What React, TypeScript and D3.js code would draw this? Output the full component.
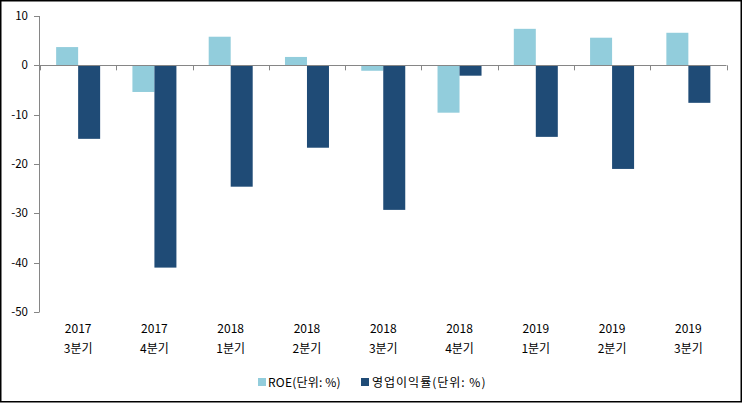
import React from 'react';
import * as d3 from 'd3';

const years = ['2017', '2017', '2018', '2018', '2018', '2018', '2019', '2019', '2019'];
const quarters = ['3분기', '4분기', '1분기', '2분기', '3분기', '4분기', '1분기', '2분기', '3분기'];
const roe = [3.7, -5.4, 5.8, 1.7, -1.1, -9.6, 7.4, 5.6, 6.6];
const opMargin = [-14.9, -41, -24.6, -16.7, -29.3, -2.1, -14.5, -21, -7.6];
const yTicks = [10, 0, -10, -20, -30, -40, -50];
const seriesNames = ['ROE(단위: %)', '영업이익률(단위: %)'];
const colors = ['#92cddc', '#1f4b76'];

const W = 743;
const H = 403;
const font = '"Noto Sans CJK KR", "Open Sans", sans-serif';

const App: React.FC = () => {
  const idx = years.map((_, i) => i);
  const x = d3.scaleBand<number>().domain(idx).range([40, 726.5]);
  const y = d3.scaleLinear().domain([-50, 10]).range([312, 16]);
  const barW = 22;
  const zero = y(0);
  const bw = x.bandwidth();

  return (
    <>
      <style>{'body{margin:0}'}</style>
      <svg width={W} height={H} style={{display: 'block', fontFamily: font}}>
        <rect x={0} y={0} width={W} height={H} fill="#fff"/>
        <rect x={0.75} y={0.75} width={740.5} height={401} fill="none" stroke="#000" strokeWidth={1.5}/>

        {/* bars */}
        {[roe, opMargin].map((vals, s) => vals.map((v, i) => {
          const cx = x(i)! + bw / 2;
          const bx = s === 0 ? cx - barW : cx;
          return <rect key={`${s}-${i}`} x={bx} width={barW}
                       y={Math.min(y(v), zero)} height={Math.abs(y(v) - zero)}
                       fill={colors[s]}/>;
        }))}

        {/* y axis */}
        <line x1={39.5} x2={39.5} y1={y(10)} y2={y(-50)} stroke="#868686"/>
        {yTicks.map(t => (
          <g key={t}>
            <line x1={34} x2={39.5} y1={Math.round(y(t)) + 0.5} y2={Math.round(y(t)) + 0.5} stroke="#868686"/>
            <text x={28} y={y(t)} dy="0.35em" textAnchor="end" fontSize={11.5} fill="#000">{t}</text>
          </g>
        ))}

        {/* x axis at zero */}
        <line x1={39.5} x2={726.5} y1={Math.round(zero) + 0.5} y2={Math.round(zero) + 0.5} stroke="#868686"/>
        {idx.concat([idx.length]).map(i => {
          const tx = Math.round(i < idx.length ? x(i)! : x.range()[1]) + 0.5;
          return <line key={i} x1={tx} x2={tx} y1={zero} y2={zero + 5} stroke="#868686"/>;
        })}

        {/* category labels */}
        {idx.map(i => {
          const cx = x(i)! + bw / 2;
          return (
            <g key={i} fontSize={12} fill="#000" textAnchor="middle">
              <text x={cx} y={333}>{years[i]}</text>
              <text x={cx} y={353}>{quarters[i]}</text>
            </g>
          );
        })}

        {/* legend */}
        <g fontSize={12} fill="#000">
          <rect x={258} y={378} width={8} height={8} fill={colors[0]}/>
          <text x={268} y={386.5} letterSpacing={0.2}>{seriesNames[0]}</text>
          <rect x={361} y={378} width={8} height={8} fill={colors[1]}/>
          <text x={372} y={386.5} letterSpacing={1}>{seriesNames[1]}</text>
        </g>
      </svg>
    </>
  );
};

export default App;
